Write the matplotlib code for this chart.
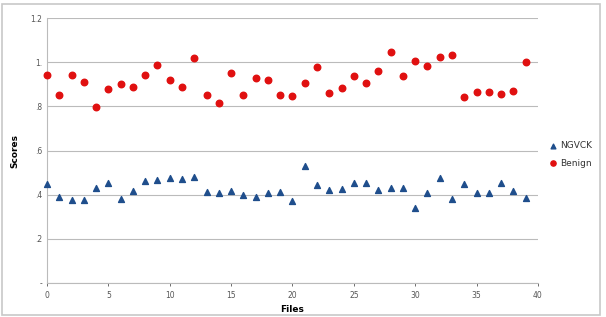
import matplotlib.pyplot as plt
from matplotlib.patches import Rectangle

files = list(range(40))

ngvck = [0.448, 0.391, 0.377, 0.376, 0.430, 0.453, 0.382, 0.415, 0.460, 0.466,
         0.478, 0.472, 0.480, 0.414, 0.406, 0.418, 0.400, 0.389, 0.409, 0.412,
         0.373, 0.528, 0.444, 0.421, 0.426, 0.451, 0.453, 0.421, 0.429, 0.429,
         0.341, 0.408, 0.478, 0.379, 0.447, 0.408, 0.406, 0.453, 0.415, 0.385]

benign = [0.940, 0.850, 0.940, 0.910, 0.797, 0.878, 0.900, 0.886, 0.940, 0.989,
          0.921, 0.889, 1.020, 0.850, 0.814, 0.952, 0.851, 0.930, 0.918, 0.850,
          0.845, 0.907, 0.978, 0.859, 0.885, 0.939, 0.907, 0.962, 1.046, 0.936,
          1.005, 0.981, 1.023, 1.035, 0.844, 0.866, 0.865, 0.856, 0.872, 1.001]

y_ticks = [0, 0.2, 0.4, 0.6, 0.8, 1.0, 1.2]
y_labels = ['-', '.2', '.4', '.6', '.8', '1.', '1.2']
x_ticks = [0, 5, 10, 15, 20, 25, 30, 35, 40]

fig = plt.figure(figsize=(6.06, 3.17), dpi=100)
fig.patches.append(Rectangle((0.004, 0.006), 0.986, 0.98, transform=fig.transFigure,
                             fill=False, edgecolor='#c8c8c8', linewidth=1.2))
ax = fig.add_axes([0.0776, 0.107, 0.81, 0.836])

ax.scatter(files, ngvck, marker='^', s=18, color='#1f4e8c', label='NGVCK',
           zorder=3, clip_on=False)
ax.scatter(files, benign, marker='o', s=22, color='#e01010', label='Benign',
           zorder=3, clip_on=False)

ax.set_xlim(0, 40)
ax.set_ylim(0, 1.2)
ax.set_xticks(x_ticks)
ax.set_yticks(y_ticks)
ax.set_yticklabels(y_labels)
ax.tick_params(labelsize=5.5, colors='#555555', length=2, width=0.6)
ax.tick_params(axis='y', length=0)
ax.grid(axis='y', color='#bbbbbb', linewidth=0.8)
ax.set_axisbelow(True)
for s in ['top', 'right']:
    ax.spines[s].set_visible(False)
for s in ['left', 'bottom']:
    ax.spines[s].set_color('#bbbbbb')
    ax.spines[s].set_linewidth(0.8)

ax.set_xlabel('Files', fontsize=6.5, fontweight='bold', labelpad=4)
ax.set_ylabel('Scores', fontsize=6.5, fontweight='bold', labelpad=8)

ax.legend(loc='center left', bbox_to_anchor=(0.995, 0.485), frameon=False,
          fontsize=6.5, handletextpad=-0.2, markerscale=0.8, labelspacing=0.9,
          labelcolor='#333333')

fig.savefig('out.png', dpi=100)
